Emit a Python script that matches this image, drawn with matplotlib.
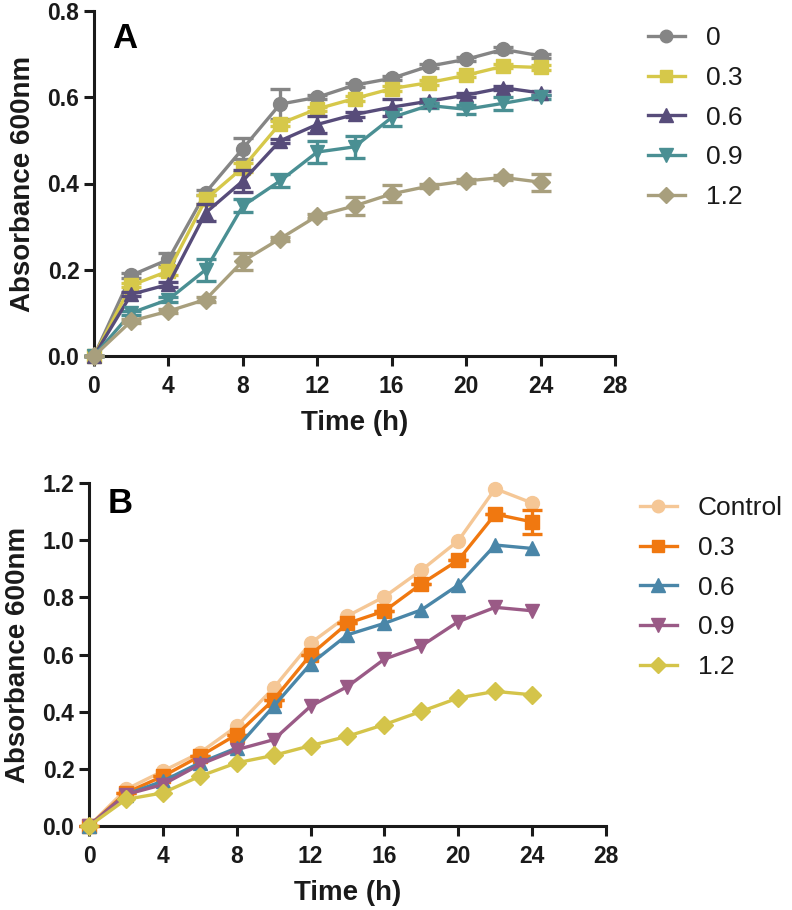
import matplotlib
matplotlib.use("Agg")
import matplotlib.pyplot as plt
from matplotlib.lines import Line2D

plt.rcParams['font.family'] = ['Liberation Sans', 'DejaVu Sans']

time = [0, 2, 4, 6, 8, 10, 12, 14, 16, 18, 20, 22, 24]

# Panel A
labels_a = ["0", "0.3", "0.6", "0.9", "1.2"]
a_0 = [0, 0.187, 0.224, 0.379, 0.481, 0.584, 0.600, 0.628, 0.644, 0.672, 0.688, 0.711, 0.696]
a_03 = [0, 0.164, 0.197, 0.363, 0.437, 0.539, 0.573, 0.597, 0.620, 0.634, 0.651, 0.672, 0.669]
a_06 = [0, 0.143, 0.166, 0.332, 0.406, 0.499, 0.537, 0.560, 0.577, 0.591, 0.605, 0.622, 0.610]
a_09 = [0, 0.100, 0.131, 0.200, 0.348, 0.406, 0.473, 0.485, 0.553, 0.581, 0.572, 0.586, 0.601]
a_12 = [0, 0.081, 0.104, 0.131, 0.220, 0.272, 0.325, 0.348, 0.376, 0.394, 0.406, 0.414, 0.403]
err_a_0 = [0, 0.005, 0.015, 0.005, 0.025, 0.035, 0.005, 0.005, 0.005, 0.005, 0.005, 0.005, 0.005]
err_a_03 = [0, 0.005, 0.01, 0.01, 0.01, 0.005, 0.005, 0.005, 0.005, 0.005, 0.005, 0.005, 0.005]
err_a_06 = [0, 0.005, 0.005, 0.02, 0.025, 0.005, 0.02, 0.005, 0.02, 0.005, 0.005, 0.005, 0.005]
err_a_09 = [0, 0.005, 0.005, 0.025, 0.015, 0.015, 0.025, 0.025, 0.02, 0.005, 0.01, 0.015, 0.005]
err_a_12 = [0, 0.005, 0.005, 0.005, 0.02, 0.005, 0.005, 0.02, 0.02, 0.005, 0.005, 0.005, 0.02]

# Panel B
labels_b = ["Control", "0.3", "0.6", "0.9", "1.2"]
b_ctrl = [0, 0.128, 0.192, 0.256, 0.349, 0.483, 0.640, 0.735, 0.802, 0.895, 0.998, 1.180, 1.130]
b_03 = [0, 0.116, 0.174, 0.244, 0.320, 0.442, 0.599, 0.709, 0.752, 0.847, 0.930, 1.091, 1.064]
b_06 = [0, 0.110, 0.157, 0.221, 0.273, 0.419, 0.567, 0.669, 0.709, 0.756, 0.843, 0.983, 0.971]
b_09 = [0, 0.110, 0.145, 0.215, 0.267, 0.302, 0.419, 0.488, 0.584, 0.630, 0.715, 0.765, 0.753]
b_12 = [0, 0.093, 0.116, 0.174, 0.221, 0.247, 0.281, 0.314, 0.355, 0.401, 0.448, 0.471, 0.459]
err_b_03 = [0, 0, 0, 0, 0, 0, 0, 0, 0, 0, 0, 0, 0.042]

colors_a = ["#858585", "#D6C84A", "#574C7A", "#4A8F93", "#A89F7D"]
colors_b = ["#F5C796", "#F07810", "#4A86A8", "#9A5A86", "#D4C44A"]
markers = ["o", "s", "^", "v", "D"]
msizes = [10, 10, 10.5, 10.5, 9.5]

INK = "#1a1a1a"
fig = plt.figure(figsize=(7.92, 9.10), dpi=100)


def style_axes(ax, ymax, yticks):
    ax.set_xlim(0, 28)
    ax.set_ylim(0, ymax)
    ax.set_xticks(range(0, 29, 4))
    ax.set_yticks(yticks)
    ax.set_yticklabels([f"{v:.1f}" for v in yticks])
    for s in ["top", "right"]:
        ax.spines[s].set_visible(False)
    for s in ["left", "bottom"]:
        ax.spines[s].set_linewidth(2.2)
        ax.spines[s].set_color(INK)
    ax.tick_params(width=2.2, length=7.5, color=INK, labelsize=16.5)
    ax.tick_params(axis="x", pad=6)
    ax.tick_params(axis="y", pad=3)
    for lab in ax.get_xticklabels() + ax.get_yticklabels():
        lab.set_fontweight("bold")
        lab.set_color(INK)
    ax.set_xlabel("Time (h)", fontsize=20, fontweight="bold", labelpad=9, color=INK)
    ax.set_ylabel("Absorbance 600nm", fontsize=20, fontweight="bold", labelpad=8, color=INK)


def add_legend(labels, colors, anchor):
    handles = [Line2D([], [], color=c, marker=m, markersize=ms * 0.9, linewidth=2.4)
               for c, m, ms in zip(colors, markers, msizes)]
    leg = fig.legend(handles, labels, loc="upper left", bbox_to_anchor=anchor,
                     frameon=False, fontsize=19, handlelength=1.4, handletextpad=0.8,
                     labelspacing=0.6, borderpad=0, borderaxespad=0)
    for t in leg.get_texts():
        t.set_color(INK)


# Panel A
axA = fig.add_axes([94/792, 1-356/910, 521/792, 345/910])
series_a = [a_0, a_03, a_06, a_09, a_12]
errs_a = [err_a_0, err_a_03, err_a_06, err_a_09, err_a_12]
for i, (ys, es) in enumerate(zip(series_a, errs_a)):
    axA.errorbar(time, ys, yerr=es, color=colors_a[i], marker=markers[i],
                 markersize=msizes[i], linewidth=2.4, elinewidth=2.4, capsize=7,
                 capthick=2.4, clip_on=False, zorder=3 + i * 0.1)
style_axes(axA, 0.8, [0.0, 0.2, 0.4, 0.6, 0.8])
fig.text(112/792, 1-48/910, "A", fontsize=25, fontweight="bold", color="black")
add_legend(labels_a, colors_a, (648/792, 1-26/910))

# Panel B
axB = fig.add_axes([89/792, 1-826/910, 517/792, 343/910])
series_b = [b_ctrl, b_03, b_06, b_09, b_12]
errs_b = [None, err_b_03, None, None, None]
for i, (ys, es) in enumerate(zip(series_b, errs_b)):
    axB.errorbar(time, ys, yerr=es, color=colors_b[i], marker=markers[i],
                 markersize=msizes[i], linewidth=2.4, elinewidth=2.4, capsize=7,
                 capthick=2.4, clip_on=False, zorder=3 + i * 0.1)
style_axes(axB, 1.2, [0.0, 0.2, 0.4, 0.6, 0.8, 1.0, 1.2])
fig.text(108/792, 1-513/910, "B", fontsize=25, fontweight="bold", color="black")
add_legend(labels_b, colors_b, (640/792, 1-496/910))

fig.savefig("out.png", dpi=100)
